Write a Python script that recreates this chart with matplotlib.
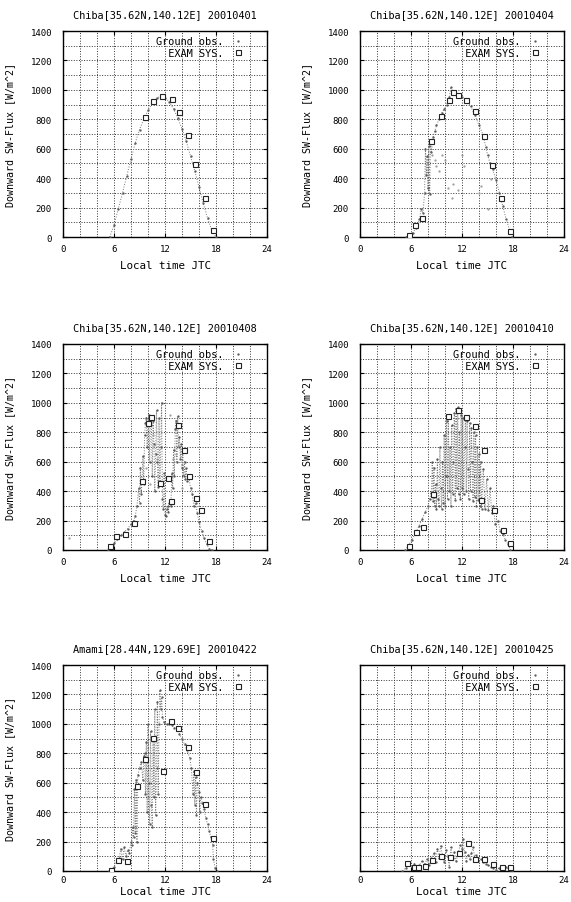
import numpy as np
import matplotlib
matplotlib.use("Agg")
import matplotlib.pyplot as plt

plt.rcParams['font.family'] = ['DejaVu Sans Mono']

# ---- panel titles ----
titles = [
    "Chiba[35.62N,140.12E] 20010401",
    "Chiba[35.62N,140.12E] 20010404",
    "Chiba[35.62N,140.12E] 20010408",
    "Chiba[35.62N,140.12E] 20010410",
    "Amami[28.44N,129.69E] 20010422",
    "Chiba[35.62N,140.12E] 20010425",
]

# ---- ground observations (local time [h], flux [W/m^2]) ----
obs_0401_t = [5.5, 6.0, 6.5, 7.0, 7.5, 8.0, 8.5, 9.0, 9.5, 10.0,
              10.5, 11.0, 11.5, 12.0, 12.5, 13.0, 13.5, 14.0, 14.5, 15.0,
              15.5, 16.0, 16.5, 17.0, 17.5, 18.0]
obs_0401_v = [0, 80, 190, 300, 415, 530, 640, 730, 800, 860,
              910, 945, 955, 945, 920, 870, 810, 735, 650, 550,
              450, 340, 230, 130, 45, 0]

obs_0404_t = [5.4, 5.8, 6.2, 6.6, 7.0, 7.2, 7.4, 7.6, 7.7, 7.8,
              7.9, 8.0, 8.1, 8.2, 8.3, 8.4, 8.6, 8.8, 9.0, 9.3,
              9.6, 9.9, 10.2, 10.5, 10.7, 10.9, 11.2, 11.5, 12.0, 12.5,
              13.0, 13.5, 14.0, 14.5, 14.8, 15.0, 15.3, 15.6, 16.0, 16.4,
              16.8, 17.2, 17.6, 17.9]
obs_0404_v = [0, 10, 30, 60, 120, 190, 160, 300, 600, 420,
              550, 330, 620, 290, 650, 580, 680, 720, 760, 800,
              840, 870, 900, 950, 1020, 990, 975, 960, 950, 930,
              890, 830, 760, 690, 610, 560, 500, 460, 390, 300,
              210, 120, 50, 0]
stray_0404_t = [8.5, 8.8, 9.0, 9.3, 9.6, 10.0, 10.3, 10.8, 11.0, 11.5,
                12.0, 12.2, 14.0, 14.2, 15.0, 15.4, 17.9]
stray_0404_v = [560, 520, 480, 450, 560, 520, 330, 267, 358, 320,
                560, 480, 300, 350, 187, 392, 996]

obs_0408_t = [5.3, 5.6, 6.0, 6.4, 6.8, 7.2, 7.6, 8.0, 8.3, 8.5,
              8.7, 8.9, 9.0, 9.1, 9.2, 9.3, 9.4, 9.5, 9.6, 9.7,
              9.8, 9.9, 10.0, 10.1, 10.2, 10.3, 10.4, 10.5, 10.6, 10.7,
              10.8, 10.9, 11.0, 11.1, 11.2, 11.3, 11.4, 11.5, 11.6, 11.7,
              11.8, 11.9, 12.0, 12.1, 12.2, 12.3, 12.4, 12.5, 12.6, 12.7,
              12.8, 12.9, 13.0, 13.1, 13.2, 13.3, 13.4, 13.5, 13.6, 13.7,
              13.8, 13.9, 14.0, 14.1, 14.2, 14.3, 14.4, 14.5, 14.6, 14.8,
              15.0, 15.2, 15.4, 15.6, 15.8, 16.0, 16.3, 16.6, 16.9, 17.2,
              17.5]
obs_0408_v = [0, 20, 45, 75, 100, 120, 145, 175, 200, 230,
              300, 420, 320, 560, 380, 470, 640, 450, 780, 860,
              900, 700, 880, 920, 600, 900, 850, 500, 880, 720,
              400, 650, 950, 600, 430, 900, 470, 700, 1000, 350,
              280, 520, 240, 230, 280, 300, 260, 320, 330, 300,
              520, 420, 680, 500, 820, 880, 600, 910, 700, 770,
              620, 720, 560, 680, 500, 600, 480, 560, 470, 500,
              420, 380, 300, 320, 250, 190, 130, 80, 40, 10,
              0]
stray_0408_t = [0.65, 9.8, 10.2, 10.6, 11.0, 12.6, 12.9, 13.3, 14.0]
stray_0408_v = [83, 560, 450, 780, 620, 920, 620, 650, 420]

obs_0410_t = [5.3, 5.7, 6.1, 6.5, 6.9, 7.3, 7.7, 8.0, 8.2, 8.4,
              8.5, 8.6, 8.7, 8.8, 8.9, 9.0, 9.1, 9.2, 9.3, 9.4,
              9.5, 9.6, 9.7, 9.8, 9.9, 10.0, 10.1, 10.2, 10.3, 10.4,
              10.5, 10.6, 10.7, 10.8, 10.9, 11.0, 11.1, 11.2, 11.3, 11.4,
              11.5, 11.6, 11.7, 11.8, 11.9, 12.0, 12.1, 12.2, 12.3, 12.4,
              12.5, 12.6, 12.7, 12.8, 12.9, 13.0, 13.1, 13.2, 13.3, 13.4,
              13.5, 13.6, 13.7, 13.8, 13.9, 14.0, 14.1, 14.2, 14.3, 14.5,
              14.7, 14.9, 15.1, 15.3, 15.5, 15.7, 15.9, 16.2, 16.5, 16.8,
              17.1, 17.4, 17.7]
obs_0410_v = [0, 30, 70, 110, 160, 210, 260, 300, 350, 390,
              600, 330, 560, 300, 450, 280, 620, 350, 300, 700,
              420, 280, 600, 320, 780, 300, 500, 880, 350, 910,
              400, 700, 300, 850, 380, 600, 930, 340, 960, 420,
              970, 380, 800, 350, 920, 420, 900, 380, 700, 910,
              400, 880, 550, 350, 860, 400, 830, 600, 330, 800,
              360, 780, 300, 700, 340, 650, 300, 600, 280, 550,
              280, 480, 270, 420, 250, 300, 180, 200, 130, 110,
              70, 40, 0]

obs_0422_t = [5.4, 5.7, 6.0, 6.3, 6.6, 6.8, 7.0, 7.2, 7.4, 7.6,
              7.8, 8.0, 8.1, 8.2, 8.3, 8.4, 8.5, 8.6, 8.7, 8.8,
              9.0, 9.2, 9.4, 9.5, 9.6, 9.7, 9.8, 9.9, 10.0, 10.1,
              10.2, 10.3, 10.4, 10.5, 10.6, 10.7, 10.8, 10.9, 11.0, 11.1,
              11.2, 11.3, 11.4, 11.5, 11.6, 11.7, 11.9, 12.2, 12.5, 12.8,
              13.1, 13.4, 13.7, 14.0, 14.3, 14.6, 14.9, 15.1, 15.3, 15.4,
              15.5, 15.6, 15.7, 15.8, 16.0, 16.1, 16.2, 16.4, 16.6, 16.8,
              17.0, 17.2, 17.4, 17.6, 17.7, 17.9, 18.1]
obs_0422_v = [0, 10, 30, 60, 90, 150, 80, 160, 100, 140,
              120, 200, 180, 300, 230, 560, 260, 620, 200, 650,
              700, 740, 620, 780, 800, 520, 880, 400, 1000, 600,
              320, 950, 450, 300, 900, 500, 1100, 380, 700, 1150,
              520, 1000, 1230, 1100, 1180, 1050, 1010, 1000, 1000, 990,
              975, 960, 930, 900, 860, 820, 770, 700, 520, 680,
              450, 640, 380, 600, 540, 400, 500, 460, 420, 360,
              320, 270, 230, 180, 80, 20, 0]

obs_0425_t = [5.0, 5.4, 5.8, 6.1, 6.4, 6.7, 7.0, 7.3, 7.6, 7.9,
              8.1, 8.4, 8.7, 8.9, 9.1, 9.3, 9.5, 9.7, 9.9, 10.1,
              10.3, 10.5, 10.7, 10.9, 11.1, 11.3, 11.5, 11.8, 12.0, 12.1,
              12.3, 12.5, 12.7, 12.9, 13.1, 13.3, 13.5, 13.7, 13.9, 14.2,
              14.5, 14.8, 15.1, 15.4, 15.7, 16.0, 16.4, 16.8, 17.2, 17.6,
              17.9]
obs_0425_v = [0, 20, 40, 30, 50, 20, 40, 70, 50, 80,
              40, 90, 120, 60, 150, 90, 170, 110, 60, 140,
              100, 30, 160, 90, 130, 70, 110, 180, 150, 220,
              130, 70, 110, 80, 120, 160, 90, 110, 70, 80,
              60, 50, 40, 30, 20, 10, 20, 15, 25, 5,
              0]

# ---- EXAM SYS. estimates ----
exam_0401_t = [9.7, 10.6, 11.6, 12.8, 13.6, 14.7, 15.55, 16.65, 17.6]
exam_0401_v = [816, 923, 957, 939, 850, 690, 497, 265, 50]
exam_0404_t = [5.8, 6.5, 7.3, 8.4, 9.5, 10.5, 11.0, 11.5, 12.5, 13.5,
               14.6, 15.5, 16.55, 17.6]
exam_0404_v = [16, 80, 130, 650, 825, 934, 985, 962, 934, 859,
               689, 488, 267, 39]
exam_0408_t = [5.55, 6.28, 7.35, 8.4, 9.35, 10.0, 10.4, 11.4, 12.3, 12.7,
               13.5, 14.2, 14.8, 15.6, 16.2, 17.2]
exam_0408_v = [25, 93, 106, 185, 467, 862, 907, 456, 490, 332,
               847, 682, 501, 354, 271, 61]
exam_0410_t = [5.8, 6.6, 7.4, 8.55, 10.4, 11.5, 12.5, 13.5, 14.2, 14.6,
               15.8, 16.8, 17.65]
exam_0410_v = [29, 124, 158, 383, 912, 953, 901, 840, 338, 682,
               270, 135, 50]
exam_0422_t = [5.7, 6.5, 7.5, 8.7, 9.6, 10.6, 11.8, 12.65, 13.55, 14.7,
               15.7, 16.7, 17.6]
exam_0422_v = [5, 73, 66, 579, 760, 907, 680, 1021, 969, 846,
               674, 454, 222]
exam_0425_t = [5.5, 6.3, 6.8, 7.6, 8.5, 9.5, 10.6, 11.6, 12.7, 13.5,
               14.6, 15.6, 16.7, 17.6]
exam_0425_v = [57, 25, 30, 35, 73, 102, 98, 120, 193, 84,
               79, 45, 30, 30]

x_ticks = [0, 6, 12, 18, 24]
y_ticks = [0, 200, 400, 600, 800, 1000, 1200, 1400]

panels = [
    (obs_0401_t, obs_0401_v, [], [], exam_0401_t, exam_0401_v),
    (obs_0404_t, obs_0404_v, stray_0404_t, stray_0404_v, exam_0404_t, exam_0404_v),
    (obs_0408_t, obs_0408_v, stray_0408_t, stray_0408_v, exam_0408_t, exam_0408_v),
    (obs_0410_t, obs_0410_v, [], [], exam_0410_t, exam_0410_v),
    (obs_0422_t, obs_0422_v, [], [], exam_0422_t, exam_0422_v),
    (obs_0425_t, obs_0425_v, [], [], exam_0425_t, exam_0425_v),
]

W, H = 571, 903
fig = plt.figure(figsize=(W / 100, H / 100), dpi=100)

# axes boxes in pixels: left, top, width, height
lefts = [63, 360]
tops = [32, 345, 666]
aw, ah = 204, 206
# the scanned bottom row has its axis labels squeezed closer
xtick_pad = [5, 5, 3]
xlabel_pad = [5, 5, 1]

for i, (ot, ov, st, sv, et, ev) in enumerate(panels):
    row, col = divmod(i, 2)
    ax = fig.add_axes([lefts[col] / W, 1 - (tops[row] + ah) / H, aw / W, ah / H])

    ax.plot(ot, ov, ls=':', lw=0.7, color='#777777', zorder=2)
    ax.plot(ot, ov, ls='none', marker='.', ms=1.3, color='#555555',
            label='Ground obs.', zorder=3)
    if st:
        ax.plot(st, sv, ls='none', marker='.', ms=1.2, color='#999999', zorder=2)
    ax.plot(et, ev, ls='none', marker='s', ms=3.6, mfc='white', mec='#222222',
            mew=0.8, label='  EXAM SYS.', zorder=4)

    ax.set_xlim(0, 24)
    ax.set_ylim(0, 1400)
    ax.set_xticks(x_ticks)
    ax.set_yticks(y_ticks)
    ax.set_xticks(np.arange(0, 25, 2), minor=True)
    ax.set_yticks(np.arange(0, 1401, 100), minor=True)
    ax.grid(True, which='both', ls=':', lw=0.7, color='#333333')
    ax.tick_params(which='major', direction='in', top=True, right=True,
                   length=3, width=0.8, labelsize=6.5)
    ax.tick_params(axis='x', which='major', pad=xtick_pad[row])
    ax.tick_params(axis='y', which='major', pad=8)
    ax.tick_params(which='minor', length=0)
    for s in ax.spines.values():
        s.set_linewidth(1.0)

    ax.set_title(titles[i], fontsize=7.4, pad=10)
    ax.set_xlabel('Local time JTC', fontsize=7.8, labelpad=xlabel_pad[row])
    if i == 5:
        ax.set_yticklabels([])
    else:
        ax.set_ylabel('Downward SW-Flux [W/m^2]', fontsize=7.2, labelpad=11)

    ax.legend(loc='upper right', bbox_to_anchor=(1 - 20 / aw, 1.0),
              frameon=False, markerfirst=False,
              fontsize=7.4, handlelength=0.8, handletextpad=1.0,
              labelspacing=0.15, borderaxespad=0.2, borderpad=0.3)

fig.savefig('out.png', dpi=100)
